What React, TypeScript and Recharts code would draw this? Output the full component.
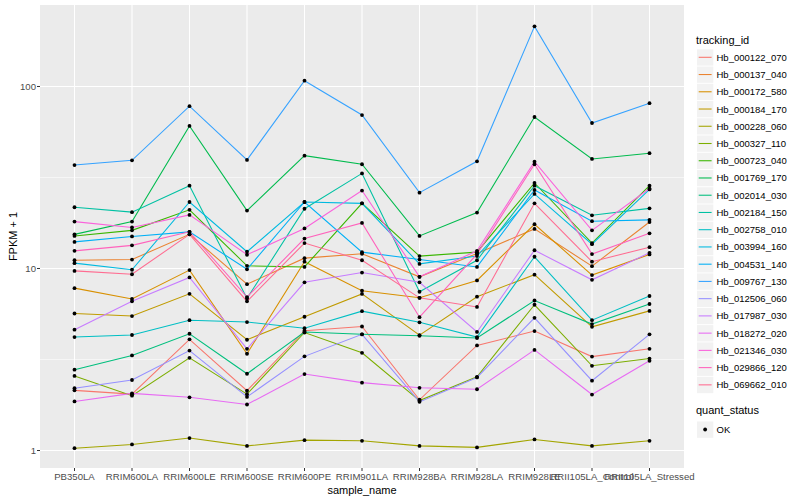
import React from 'react';
import { LineChart, Line, XAxis, YAxis, CartesianGrid } from 'recharts';

const FONT = '"Liberation Sans", Arial, Helvetica, sans-serif';

const categories = [
  'PB350LA', 'RRIM600LA', 'RRIM600LE', 'RRIM600SE', 'RRIM600PE', 'RRIM901LA',
  'RRIM928BA', 'RRIM928LA', 'RRIM928LE', 'RRII105LA_Control', 'RRII105LA_Stressed',
];

const trackingIds = [
  'Hb_000122_070', 'Hb_000137_040', 'Hb_000172_580', 'Hb_000184_170', 'Hb_000228_060',
  'Hb_000327_110', 'Hb_000723_040', 'Hb_001769_170', 'Hb_002014_030', 'Hb_002184_150',
  'Hb_002758_010', 'Hb_003994_160', 'Hb_004531_140', 'Hb_009767_130', 'Hb_012506_060',
  'Hb_017987_030', 'Hb_018272_020', 'Hb_021346_030', 'Hb_029866_120', 'Hb_069662_010',
];

const colors = [
  '#F8766D', '#EA8331', '#D89000', '#C09B00', '#A3A500', '#7CAE00', '#39B600', '#00BB4E',
  '#00BF7D', '#00C1A3', '#00BFC4', '#00BAE0', '#00B0F6', '#35A2FF', '#9590FF', '#C77CFF',
  '#E76BF3', '#FA62DB', '#FF62BC', '#FF6C91',
];

// FPKM + 1 per sample, in category order
const hb000122_070 = [2.14, 2.04, 4.08, 2.13, 4.55, 4.8, 1.9, 3.78, 4.53, 3.28, 3.62];
const hb000137_040 = [11.1, 11.2, 15.4, 8.2, 11.4, 12.05, 9.0, 12.1, 16.5, 10.3, 18.0];
const hb000172_580 = [7.8, 6.8, 9.8, 3.4, 10.9, 7.55, 6.9, 8.6, 17.5, 9.2, 11.95];
const hb000184_170 = [5.66, 5.48, 7.26, 4.06, 5.43, 7.25, 4.3, 7.0, 9.25, 4.78, 5.85];
const hb000228_060 = [1.03, 1.08, 1.17, 1.06, 1.14, 1.13, 1.06, 1.04, 1.15, 1.06, 1.13];
const hb000327_110 = [2.57, 2.0, 3.23, 2.04, 4.45, 3.44, 1.88, 2.54, 6.32, 2.92, 3.2];
const hb000723_040 = [15.1, 16.2, 21.0, 10.35, 10.2, 22.8, 11.7, 12.3, 29.5, 13.8, 28.5];
const hb001769_170 = [15.4, 18.1, 60.7, 20.8, 41.7, 37.4, 15.1, 20.3, 68.0, 40.0, 43.0];
const hb002014_030 = [2.78, 3.33, 4.38, 2.64, 4.48, 4.35, 4.27, 4.15, 6.67, 4.95, 6.38];
const hb002184_150 = [21.7, 20.4, 28.5, 6.85, 21.3, 33.3, 7.45, 11.1, 28.5, 19.6, 21.4];
const hb002758_010 = [4.2, 4.31, 5.2, 5.08, 4.7, 5.83, 5.06, 4.2, 11.6, 5.2, 7.06];
const hb003994_160 = [10.7, 9.84, 23.2, 12.36, 23.2, 22.8, 10.6, 11.7, 25.7, 13.6, 27.2];
const hb004531_140 = [14.0, 15.0, 15.9, 9.9, 23.2, 12.3, 11.2, 10.2, 27.0, 18.2, 18.5];
const hb009767_130 = [37.0, 39.3, 78.0, 39.5, 107.6, 69.7, 26.1, 38.8, 214.0, 63.0, 81.0];
const hb012506_060 = [2.2, 2.44, 3.54, 1.97, 3.29, 4.35, 1.85, 2.52, 5.36, 2.42, 4.35];
const hb017987_030 = [4.61, 6.6, 8.93, 3.62, 8.4, 9.5, 8.4, 4.48, 12.6, 8.67, 12.2];
const hb018272_020 = [1.86, 2.06, 1.96, 1.79, 2.63, 2.36, 2.21, 2.17, 3.57, 2.03, 3.11];
const hb021346_030 = [18.1, 16.8, 19.7, 11.9, 16.6, 26.8, 9.0, 12.5, 38.6, 16.2, 27.5];
const hb029866_120 = [12.5, 13.4, 15.9, 6.97, 14.6, 17.8, 5.4, 12.0, 37.4, 12.0, 15.6];
const hb069662_010 = [9.7, 9.3, 15.4, 6.6, 13.8, 11.1, 6.9, 6.15, 22.8, 10.9, 13.1];

const seriesValues = [
  hb000122_070, hb000137_040, hb000172_580, hb000184_170, hb000228_060,
  hb000327_110, hb000723_040, hb001769_170, hb002014_030, hb002184_150,
  hb002758_010, hb003994_160, hb004531_140, hb009767_130, hb012506_060,
  hb017987_030, hb018272_020, hb021346_030, hb029866_120, hb069662_010,
];

const yTicks = [1, 10, 100];
const yMinor = [Math.sqrt(10), Math.sqrt(1000)];
const xTicks = categories.map((_, i) => i + 1);

const data = categories.map((c, i) => {
  const row: Record<string, number | string> = { x: i + 1, name: c };
  seriesValues.forEach((s, k) => {
    row['s' + k] = s[i];
  });
  return row;
});

const LEG_X = 697;
const LEG_Y0 = 57.3;
const LEG_STEP = 17.24;

export default function App() {
  return (
    <div style={{ position: 'absolute', left: 0, top: 0, width: 800, height: 500, background: '#fff' }}>
      <LineChart
        width={800}
        height={500}
        data={data}
        margin={{ top: 5, right: 116, bottom: 0, left: 0 }}
        style={{ fontFamily: FONT }}
      >
        <CartesianGrid
          fill="#EBEBEB"
          stroke="#FFFFFF"
          strokeWidth={0.55}
          vertical={false}
          horizontalValues={yMinor}
        />
        <CartesianGrid
          stroke="#FFFFFF"
          strokeWidth={1.07}
          horizontalValues={yTicks}
          verticalValues={xTicks}
        />
        <XAxis
          type="number"
          dataKey="x"
          domain={[0.4, 11.6]}
          ticks={xTicks}
          interval={0}
          tickFormatter={(v: number) => categories[v - 1]}
          axisLine={false}
          tickSize={3}
          tickMargin={2}
          height={32}
          tick={{ fontSize: 9.6, fill: '#4D4D4D', fontFamily: FONT }}
          tickLine={{ stroke: '#333333' }}
        />
        <YAxis
          scale="log"
          domain={[0.8014, 280.4]}
          allowDataOverflow
          ticks={yTicks}
          interval={0}
          width={40}
          axisLine={false}
          tickSize={3}
          tickMargin={1}
          tickFormatter={(v: number) => String(v)}
          tick={{ fontSize: 9.6, fill: '#4D4D4D', fontFamily: FONT }}
          tickLine={{ stroke: '#333333' }}
        />
        {seriesValues.map((_, k) => (
          <Line
            key={'l' + k}
            type="linear"
            dataKey={'s' + k}
            stroke={colors[k]}
            strokeWidth={1.07}
            dot={false}
            activeDot={false}
            isAnimationActive={false}
          />
        ))}
        {seriesValues.map((_, k) => (
          <Line
            key={'p' + k}
            type="linear"
            dataKey={'s' + k}
            stroke="none"
            strokeWidth={0}
            dot={{ r: 1.9, fill: '#000000', stroke: 'none' }}
            activeDot={false}
            isAnimationActive={false}
          />
        ))}
      </LineChart>
      <svg
        width={800}
        height={500}
        style={{ position: 'absolute', left: 0, top: 0, pointerEvents: 'none', fontFamily: FONT }}
      >
        <text x={362} y={490} fontSize={11} fill="#000" textAnchor="middle" dominantBaseline="central">
          sample_name
        </text>
        <text
          x={13}
          y={236.5}
          fontSize={11}
          fill="#000"
          textAnchor="middle"
          dominantBaseline="central"
          transform="rotate(-90 13 236.5)"
        >
          FPKM + 1
        </text>
        <text x={LEG_X - 1} y={40} fontSize={11} fill="#000" dominantBaseline="central">
          tracking_id
        </text>
        {trackingIds.map((id, i) => {
          const cy = LEG_Y0 + LEG_STEP * i;
          return (
            <g key={id}>
              <rect x={LEG_X} y={cy - 8} width={16.3} height={16.3} fill="#F2F2F2" />
              <line x1={LEG_X + 1.7} x2={LEG_X + 14.6} y1={cy} y2={cy} stroke={colors[i]} strokeWidth={1.07} />
              <text x={716.5} y={cy} fontSize={9.5} fill="#000" dominantBaseline="central">
                {id}
              </text>
            </g>
          );
        })}
        <text x={LEG_X - 1} y={410} fontSize={11} fill="#000" dominantBaseline="central">
          quant_status
        </text>
        <rect x={LEG_X} y={429.5 - 8} width={16.3} height={16.3} fill="#F2F2F2" />
        <circle cx={LEG_X + 8.15} cy={429.5} r={1.9} fill="#000" />
        <text x={716.5} y={429.5} fontSize={9.5} fill="#000" dominantBaseline="central">
          OK
        </text>
      </svg>
    </div>
  );
}
